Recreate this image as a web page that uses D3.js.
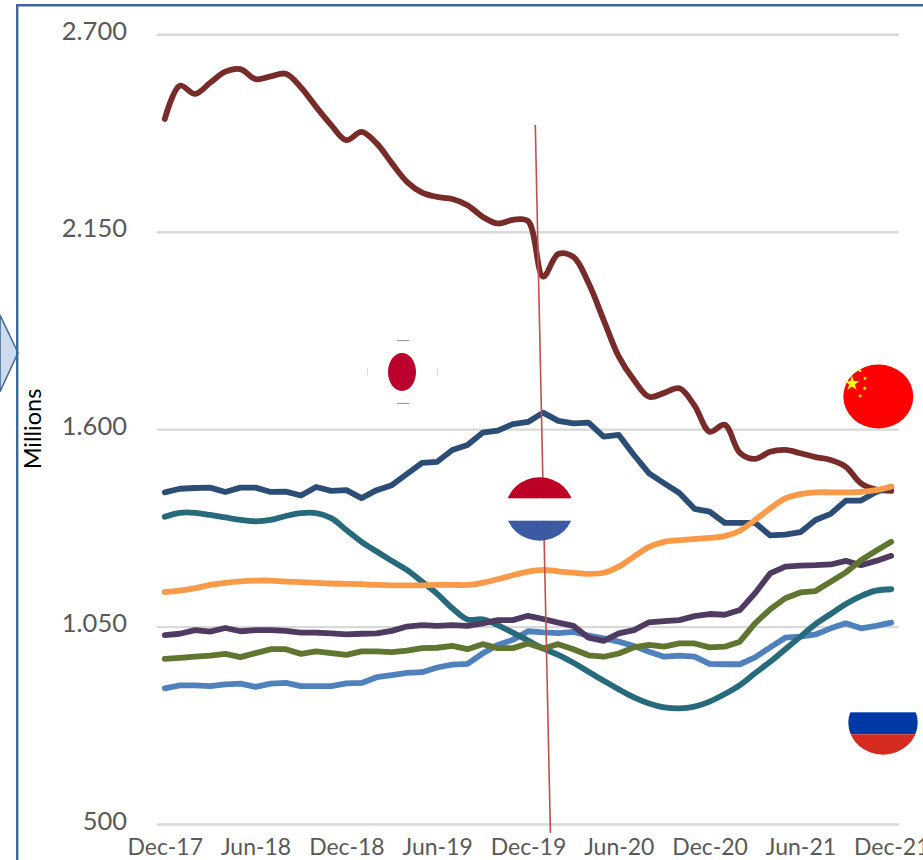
<!DOCTYPE html>
<html>
<head>
<meta charset="utf-8">
<script src="https://cdn.jsdelivr.net/npm/d3@7/dist/d3.min.js"></script>
<style>
html,body{margin:0;padding:0;background:#fff;overflow:hidden}
svg{display:block}
text{font-family:Lato,"Open Sans",sans-serif}
</style>
</head>
<body>
<svg id="c" width="923" height="860"></svg>
<script>
const months = ["Dec-17","Jan-18","Feb-18","Mar-18","Apr-18","May-18","Jun-18","Jul-18","Aug-18","Sep-18","Oct-18","Nov-18","Dec-18","Jan-19","Feb-19","Mar-19","Apr-19","May-19","Jun-19","Jul-19","Aug-19","Sep-19","Oct-19","Nov-19","Dec-19","Jan-20","Feb-20","Mar-20","Apr-20","May-20","Jun-20","Jul-20","Aug-20","Sep-20","Oct-20","Nov-20","Dec-20","Jan-21","Feb-21","Mar-21","Apr-21","May-21","Jun-21","Jul-21","Aug-21","Sep-21","Oct-21","Nov-21","Dec-21"];
const xTickLabels = ["Dec-17","Jun-18","Dec-18","Jun-19","Dec-19","Jun-20","Dec-20","Jun-21","Dec-21"];
const yTicks = [500,1050,1600,2150,2700];
const yTickLabels = ["500","1.050","1.600","2.150","2.700"];

const lightBlueValues = [878,886,886,884,889,891,882,891,893,884,884,884,892,893,909,915,921,923,936,944,946,975,999,1013,1037,1034,1032,1035,1025,1017,1008,996,980,966,969,966,946,945,945,964,992,1019,1022,1028,1045,1059,1045,1052,1061];
const tealValues = [1356,1367,1367,1361,1354,1347,1343,1347,1358,1366,1366,1352,1319,1286,1259,1233,1208,1175,1141,1101,1070,1070,1054,1033,1011,989,971,949,924,899,875,853,836,825,822,827,841,862,887,920,952,987,1022,1057,1085,1113,1135,1150,1154];
const purpleValues = [1026,1030,1040,1036,1046,1037,1040,1040,1038,1033,1033,1031,1028,1030,1031,1038,1050,1054,1052,1054,1052,1059,1068,1068,1080,1071,1061,1052,1019,1010,1031,1040,1062,1065,1068,1079,1085,1083,1096,1143,1198,1217,1220,1221,1223,1233,1221,1233,1247];
const greenValues = [960,963,966,969,974,965,976,987,987,974,981,976,971,981,981,979,983,990,991,996,987,1001,990,990,1003,989,1001,987,970,966,975,992,999,994,1003,1003,992,994,1008,1059,1098,1129,1145,1149,1175,1201,1235,1261,1286];
const brownValues = [2464,2557,2534,2565,2596,2603,2575,2583,2590,2552,2498,2447,2405,2428,2396,2341,2289,2259,2247,2241,2224,2192,2173,2183,2180,2025,2088,2080,2007,1904,1802,1737,1690,1701,1714,1666,1593,1612,1534,1517,1537,1542,1533,1522,1514,1495,1449,1432,1428];
const navyValues = [1424,1434,1436,1437,1425,1437,1437,1425,1426,1415,1439,1428,1430,1408,1430,1444,1475,1506,1509,1542,1556,1590,1596,1614,1620,1646,1623,1616,1618,1579,1584,1528,1477,1449,1422,1378,1370,1339,1339,1339,1304,1306,1313,1347,1364,1401,1401,1425,1439];
const orangeValues = [1146,1150,1157,1166,1172,1176,1178,1178,1175,1174,1172,1170,1169,1168,1166,1165,1165,1165,1166,1166,1166,1172,1182,1193,1203,1208,1204,1200,1197,1200,1217,1245,1272,1286,1291,1294,1297,1302,1317,1347,1379,1407,1419,1424,1424,1424,1425,1430,1440];

const seriesList = [
  {values:lightBlueValues,color:"#4f81bd",smooth:false},
  {values:tealValues,color:"#276a7c",smooth:true},
  {values:purpleValues,color:"#4f3b62",smooth:false},
  {values:greenValues,color:"#5f7530",smooth:false},
  {values:brownValues,color:"#772c2a",smooth:true},
  {values:navyValues,color:"#2c4d75",smooth:false},
  {values:orangeValues,color:"#f99a49",smooth:true}
];

const svg = d3.select("#c");
const x = d3.scalePoint().domain(months).range([157.2,898.8]).padding(0.5);
const y = d3.scaleLinear().domain([500,2700]).range([824,34.3]);

// frame and side chevron
svg.append("path").attr("d","M0,315 L18,352.7 L0,391.7 Z").attr("fill","#cddbec").attr("stroke","#3f6796").attr("stroke-width",1.5);
svg.append("path").attr("d","M17.2,862 V5.3 H925").attr("fill","none").attr("stroke","#3f6796").attr("stroke-width",2.4);

// y axis + grid
const yAxis = d3.axisLeft(y).tickValues(yTicks).tickSize(899-157.2)
  .tickFormat((d,i)=>yTickLabels[i]).tickPadding(30);
const gy = svg.append("g").attr("transform","translate(898.8,0)").call(yAxis);
gy.select(".domain").remove();
gy.selectAll("line").attr("stroke","#d9d9d9").attr("stroke-width",2.4);
gy.selectAll("text").attr("fill","#595959").style("font-size","25.5px").attr("dy","0.1em").attr("y",2.5);

// x axis
const xAxis = d3.axisBottom(x).tickValues(xTickLabels).tickSize(0).tickPadding(0);
const gx = svg.append("g").attr("transform","translate(0,824)").call(xAxis);
gx.select(".domain").remove();
gx.selectAll("text").attr("fill","#595959").style("font-size","23px").attr("y",15).attr("dy","0.71em");

// axis title
svg.append("text").attr("transform","translate(41,429) rotate(-90)").attr("text-anchor","middle")
  .attr("fill","#000").style("font-size","23.5px").text("Millions");

// lines
seriesList.forEach(s=>{
  const line = d3.line().x((d,i)=>x(months[i])).y(d=>y(d))
    .curve(s.smooth ? d3.curveCatmullRom.alpha(0.5) : d3.curveLinear);
  svg.append("path").datum(s.values).attr("d",line).attr("fill","none")
    .attr("stroke",s.color).attr("stroke-width",5.8)
    .attr("stroke-linecap","round").attr("stroke-linejoin","round");
});

// Dec-19 marker
svg.append("line").attr("x1",535.3).attr("y1",125).attr("x2",550.4).attr("y2",833)
  .attr("stroke","#c0504d").attr("stroke-width",1.6);

// flags
const defs = svg.append("defs");
function clip(id,cx,cy,rx,ry){
  defs.append("clipPath").attr("id",id).append("ellipse").attr("cx",cx).attr("cy",cy).attr("rx",rx).attr("ry",ry);
}
// Japan
const jp = svg.append("g");
jp.append("ellipse").attr("cx",402).attr("cy",372).attr("rx",14).attr("ry",19).attr("fill","#bc002d");
[[397,340.6,409,340.6],[397,403.4,409,403.4]].forEach(d=>jp.append("line").attr("x1",d[0]).attr("y1",d[1]).attr("x2",d[2]).attr("y2",d[3]).attr("stroke","#777").attr("stroke-width",0.8));
[[367.4,368,367.4,375],[437.4,368,437.4,375]].forEach(d=>jp.append("line").attr("x1",d[0]).attr("y1",d[1]).attr("x2",d[2]).attr("y2",d[3]).attr("stroke","#ccc").attr("stroke-width",0.8));
// Netherlands
clip("nl",539.6,509,33.8,31.7);
const nl = svg.append("g");
nl.append("rect").attr("x",505.8).attr("y",498.3).attr("width",67.6).attr("height",22.4).attr("fill","#fff");
const nlg = nl.append("g").attr("clip-path","url(#nl)");
nlg.append("rect").attr("x",505).attr("y",477).attr("width",70).attr("height",21.3).attr("fill","#bd0025");
nlg.append("rect").attr("x",505).attr("y",520.7).attr("width",70).attr("height",21).attr("fill","#3c5aa4");
// China
svg.append("ellipse").attr("cx",878.3).attr("cy",396.5).attr("rx",35).attr("ry",32).attr("fill","#fe0000");
const star = d3.symbol().type(d3.symbolStar);
[[852,383.5,70],[860,370.7,6],[865,378.3,6],[864.7,388.3,6],[860,396,6]].forEach(d=>{
  svg.append("path").attr("d",star.size(d[2])()).attr("transform",`translate(${d[0]},${d[1]})`).attr("fill","#ffff00");
});
// Russia
clip("ru",883,722.7,34.7,32);
const ru = svg.append("g").attr("clip-path","url(#ru)");
ru.append("rect").attr("x",846).attr("y",712.3).attr("width",74).attr("height",22).attr("fill","#0039a6");
ru.append("rect").attr("x",846).attr("y",734.3).attr("width",74).attr("height",22).attr("fill","#d52b1e");
</script>
</body>
</html>
